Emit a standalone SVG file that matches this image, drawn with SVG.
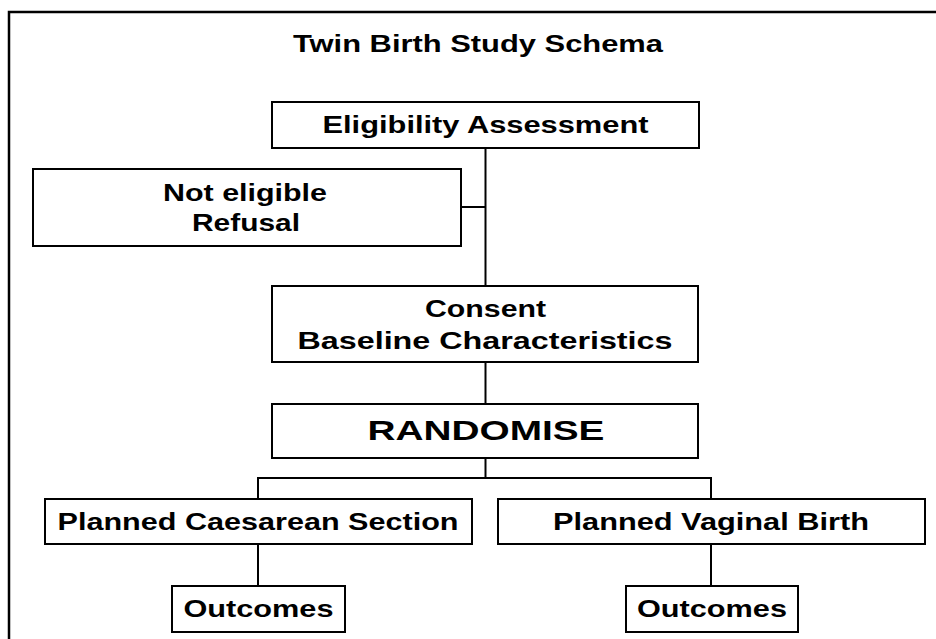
<svg xmlns="http://www.w3.org/2000/svg" width="936" height="639" viewBox="0 0 936 639">
<style>
.box{fill:#fff;stroke:#000;stroke-width:2}
.ln{stroke:#000;stroke-width:2;fill:none}
text{font-family:"Liberation Sans",Arial,sans-serif;font-weight:bold;fill:#000;text-anchor:middle}
.t{font-size:23px}
.b{font-size:24px}
</style>
<rect x="9" y="12" width="960" height="660" fill="#fff" stroke="#000" stroke-width="2.5"/>
<text x="478" y="52" style="font-size:23px" textLength="370" lengthAdjust="spacingAndGlyphs">Twin Birth Study Schema</text>
<g id="connectors">
<line class="ln" x1="485.5" y1="148" x2="485.5" y2="286"/>
<line class="ln" x1="461" y1="207" x2="485.5" y2="207"/>
<line class="ln" x1="485.5" y1="362" x2="485.5" y2="404"/>
<line class="ln" x1="485.5" y1="458" x2="485.5" y2="478"/>
<polyline class="ln" points="258,499 258,478 711,478 711,499"/>
<line class="ln" x1="258" y1="544" x2="258" y2="586"/>
<line class="ln" x1="711" y1="544" x2="711" y2="586"/>
</g>
<g id="eligibility">
<rect class="box" x="272" y="102" width="427" height="46"/>
<text class="t" x="485.5" y="133" textLength="326" lengthAdjust="spacingAndGlyphs">Eligibility Assessment</text>
</g>
<g id="not-eligible">
<rect class="box" x="33" y="169" width="428" height="77"/>
<text class="t" x="245" y="201" textLength="164" lengthAdjust="spacingAndGlyphs">Not eligible</text>
<text class="t" x="246" y="231" textLength="108" lengthAdjust="spacingAndGlyphs">Refusal</text>
</g>
<g id="consent">
<rect class="box" x="272" y="286" width="426" height="76"/>
<text class="t" x="485.5" y="317" textLength="121" lengthAdjust="spacingAndGlyphs">Consent</text>
<text class="t" x="485" y="349" textLength="375" lengthAdjust="spacingAndGlyphs">Baseline Characteristics</text>
</g>
<g id="randomise">
<rect class="box" x="272" y="404" width="426" height="54"/>
<text x="486" y="440" style="font-size:28px" textLength="237" lengthAdjust="spacingAndGlyphs">RANDOMISE</text>
</g>
<g id="caesarean">
<rect class="box" x="45" y="499" width="427" height="45"/>
<text class="b" x="258" y="530" textLength="401" lengthAdjust="spacingAndGlyphs">Planned Caesarean Section</text>
</g>
<g id="vaginal">
<rect class="box" x="498" y="499" width="427" height="45"/>
<text class="b" x="711" y="530" textLength="316" lengthAdjust="spacingAndGlyphs">Planned Vaginal Birth</text>
</g>
<g id="outcomes-cs">
<rect class="box" x="172" y="586" width="173" height="46"/>
<text class="b" x="258.5" y="617" textLength="150" lengthAdjust="spacingAndGlyphs">Outcomes</text>
</g>
<g id="outcomes-vb">
<rect class="box" x="626" y="586" width="172" height="46"/>
<text class="b" x="712" y="617" textLength="150" lengthAdjust="spacingAndGlyphs">Outcomes</text>
</g>
</svg>
